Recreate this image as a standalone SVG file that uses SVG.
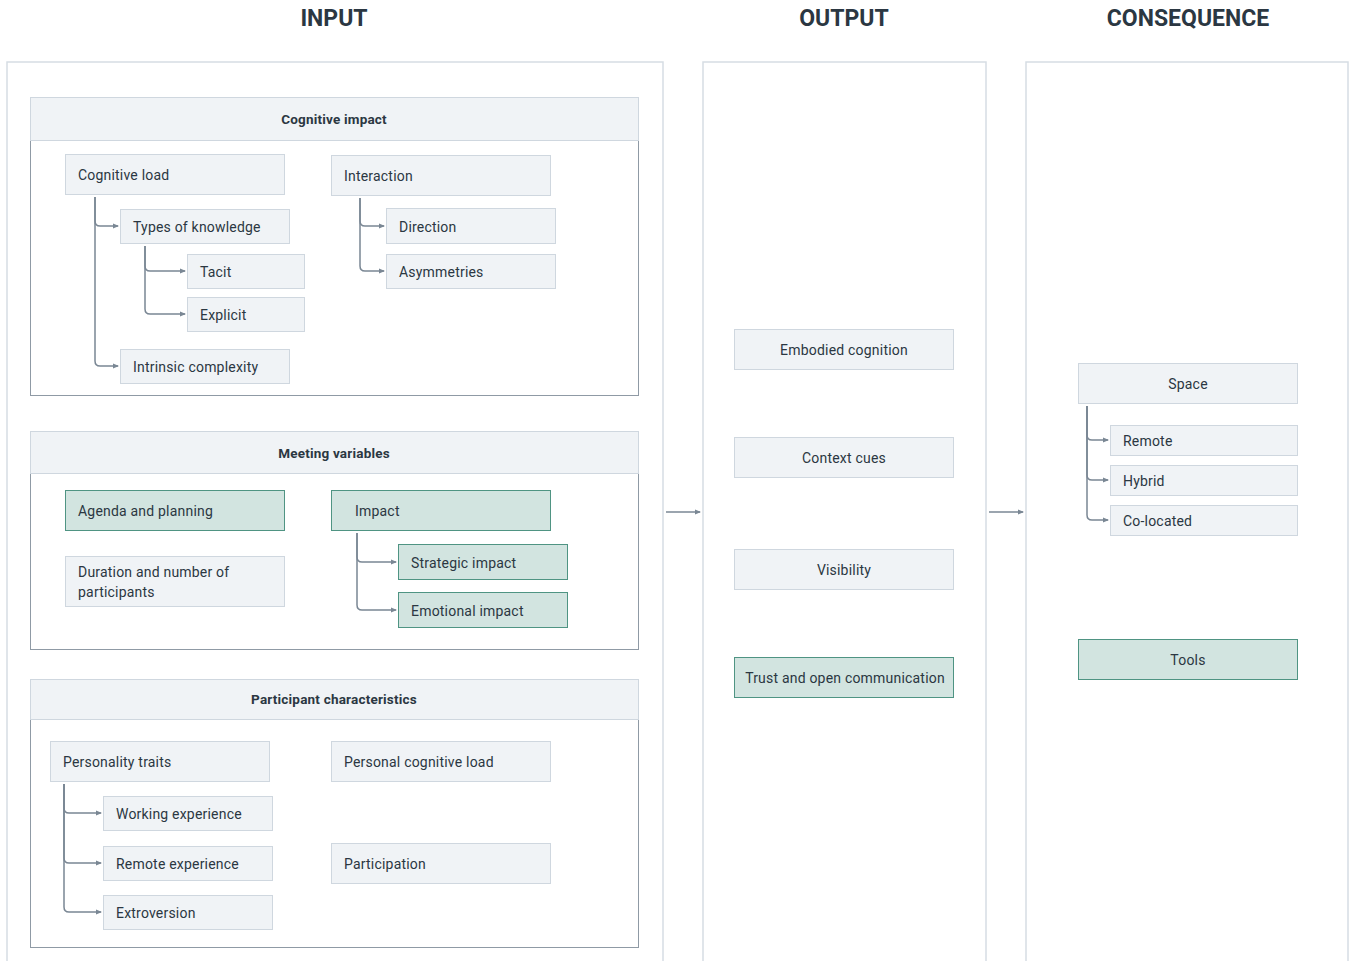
<svg xmlns="http://www.w3.org/2000/svg" width="1349" height="961" viewBox="0 0 1349 961">
<defs>
<marker id="ah" viewBox="0 0 6 6" refX="5" refY="3" markerWidth="6" markerHeight="6" markerUnits="userSpaceOnUse" orient="auto">
<path d="M0,0.5 L6,3 L0,5.5 z" fill="#7a8794"/>
</marker>
<style>
.title{font-family:Roboto,"Liberation Sans",sans-serif;font-weight:700;font-size:23px;fill:#2b3742;text-anchor:middle}
.panel{fill:#fff;stroke:#d6dde4;stroke-width:1.5}
.ghead{fill:#f0f3f6;stroke:#cfd7df;stroke-width:1}
.gbody{fill:#fff;stroke:#8f9aa5;stroke-width:1}
.gtxt{font-family:Roboto,"Liberation Sans",sans-serif;font-weight:700;font-size:13.5px;fill:#2b3742;text-anchor:middle;letter-spacing:0.2px}
.n{fill:#f0f3f6;stroke:#cfd7df;stroke-width:1}
.g{fill:#d2e4e0;stroke:#4f9483;stroke-width:1}
.t{font-family:Roboto,"Liberation Sans",sans-serif;font-size:14px;fill:#2b3742;letter-spacing:0.2px}
.c{text-anchor:middle}
.con{fill:none;stroke:#7a8794;stroke-width:1.5;marker-end:url(#ah)}
</style>
</defs>
<rect width="1349" height="961" fill="#fff"/>

<g id="titles">
<text class="title" x="334" y="26">INPUT</text>
<text class="title" x="844" y="26">OUTPUT</text>
<text class="title" x="1188" y="26">CONSEQUENCE</text>
</g>

<g id="panels">
<rect class="panel" x="7" y="62" width="656" height="910"/>
<rect class="panel" x="703" y="62" width="283" height="910"/>
<rect class="panel" x="1026" y="62" width="322" height="910"/>
</g>

<g id="group-cognitive-impact">
<rect class="gbody" x="30.5" y="140.5" width="608" height="255"/>
<rect class="ghead" x="30.5" y="97.5" width="608" height="43"/>
<text class="gtxt" x="334" y="124">Cognitive impact</text>
</g>
<g id="group-meeting-variables">
<rect class="gbody" x="30.5" y="473.5" width="608" height="176"/>
<rect class="ghead" x="30.5" y="431.5" width="608" height="42"/>
<text class="gtxt" x="334" y="458">Meeting variables</text>
</g>
<g id="group-participant-characteristics">
<rect class="gbody" x="30.5" y="719.5" width="608" height="228"/>
<rect class="ghead" x="30.5" y="679.5" width="608" height="40"/>
<text class="gtxt" x="334" y="704">Participant characteristics</text>
</g>

<g id="connectors">
<path class="con" d="M95,197 V221 Q95,226 100,226 H118"/>
<path class="con" d="M95,197 V361 Q95,366 100,366 H118"/>
<path class="con" d="M145,246 V266 Q145,271 150,271 H185"/>
<path class="con" d="M145,246 V309 Q145,314 150,314 H185"/>
<path class="con" d="M360,198 V221 Q360,226 365,226 H384"/>
<path class="con" d="M360,198 V266 Q360,271 365,271 H384"/>
<path class="con" d="M357,533 V557 Q357,562 362,562 H396"/>
<path class="con" d="M357,533 V605 Q357,610 362,610 H396"/>
<path class="con" d="M64,784 V808 Q64,813 69,813 H101"/>
<path class="con" d="M64,784 V858 Q64,863 69,863 H101"/>
<path class="con" d="M64,784 V907 Q64,912 69,912 H101"/>
<path class="con" d="M1087,406 V435 Q1087,440 1092,440 H1108"/>
<path class="con" d="M1087,406 V475 Q1087,480 1092,480 H1108"/>
<path class="con" d="M1087,406 V515 Q1087,520 1092,520 H1108"/>
<path class="con" d="M666,512 H700"/>
<path class="con" d="M989,512 H1023"/>
</g>

<g id="cognitive-load"><rect class="n" x="65.5" y="154.5" width="219" height="40"/><text class="t" x="78" y="180">Cognitive load</text></g>
<g id="types-of-knowledge"><rect class="n" x="120.5" y="209.5" width="169" height="34"/><text class="t" x="133" y="232">Types of knowledge</text></g>
<g id="tacit"><rect class="n" x="187.5" y="254.5" width="117" height="34"/><text class="t" x="200" y="277">Tacit</text></g>
<g id="explicit"><rect class="n" x="187.5" y="297.5" width="117" height="34"/><text class="t" x="200" y="320">Explicit</text></g>
<g id="intrinsic-complexity"><rect class="n" x="120.5" y="349.5" width="169" height="34"/><text class="t" x="133" y="372">Intrinsic complexity</text></g>
<g id="interaction"><rect class="n" x="331.5" y="155.5" width="219" height="40"/><text class="t" x="344" y="181">Interaction</text></g>
<g id="direction"><rect class="n" x="386.5" y="208.5" width="169" height="35"/><text class="t" x="399" y="232">Direction</text></g>
<g id="asymmetries"><rect class="n" x="386.5" y="254.5" width="169" height="34"/><text class="t" x="399" y="277">Asymmetries</text></g>

<g id="agenda-and-planning"><rect class="g" x="65.5" y="490.5" width="219" height="40"/><text class="t" x="78" y="516">Agenda and planning</text></g>
<g id="impact"><rect class="g" x="331.5" y="490.5" width="219" height="40"/><text class="t" x="355" y="516">Impact</text></g>
<g id="duration"><rect class="n" x="65.5" y="556.5" width="219" height="50"/><text class="t" x="78" y="577">Duration and number of</text><text class="t" x="78" y="597">participants</text></g>
<g id="strategic-impact"><rect class="g" x="398.5" y="544.5" width="169" height="35"/><text class="t" x="411" y="568">Strategic impact</text></g>
<g id="emotional-impact"><rect class="g" x="398.5" y="592.5" width="169" height="35"/><text class="t" x="411" y="616">Emotional impact</text></g>

<g id="personality-traits"><rect class="n" x="50.5" y="741.5" width="219" height="40"/><text class="t" x="63" y="767">Personality traits</text></g>
<g id="personal-cognitive-load"><rect class="n" x="331.5" y="741.5" width="219" height="40"/><text class="t" x="344" y="767">Personal cognitive load</text></g>
<g id="working-experience"><rect class="n" x="103.5" y="796.5" width="169" height="34"/><text class="t" x="116" y="819">Working experience</text></g>
<g id="remote-experience"><rect class="n" x="103.5" y="846.5" width="169" height="34"/><text class="t" x="116" y="869">Remote experience</text></g>
<g id="extroversion"><rect class="n" x="103.5" y="895.5" width="169" height="34"/><text class="t" x="116" y="918">Extroversion</text></g>
<g id="participation"><rect class="n" x="331.5" y="843.5" width="219" height="40"/><text class="t" x="344" y="869">Participation</text></g>

<g id="embodied-cognition"><rect class="n" x="734.5" y="329.5" width="219" height="40"/><text class="t c" x="844" y="355">Embodied cognition</text></g>
<g id="context-cues"><rect class="n" x="734.5" y="437.5" width="219" height="40"/><text class="t c" x="844" y="463">Context cues</text></g>
<g id="visibility"><rect class="n" x="734.5" y="549.5" width="219" height="40"/><text class="t c" x="844" y="575">Visibility</text></g>
<g id="trust"><rect class="g" x="734.5" y="657.5" width="219" height="40"/><text class="t c" x="845" y="683">Trust and open communication</text></g>

<g id="space"><rect class="n" x="1078.5" y="363.5" width="219" height="40"/><text class="t c" x="1188" y="389">Space</text></g>
<g id="remote"><rect class="n" x="1110.5" y="425.5" width="187" height="30"/><text class="t" x="1123" y="446">Remote</text></g>
<g id="hybrid"><rect class="n" x="1110.5" y="465.5" width="187" height="30"/><text class="t" x="1123" y="486">Hybrid</text></g>
<g id="co-located"><rect class="n" x="1110.5" y="505.5" width="187" height="30"/><text class="t" x="1123" y="526">Co-located</text></g>
<g id="tools"><rect class="g" x="1078.5" y="639.5" width="219" height="40"/><text class="t c" x="1188" y="665">Tools</text></g>
</svg>
